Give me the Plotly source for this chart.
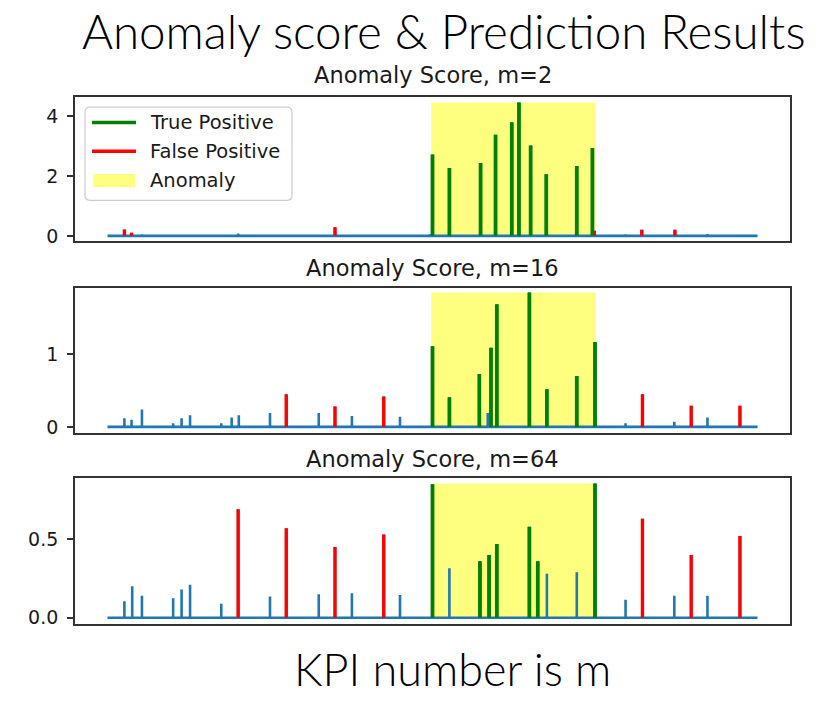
import plotly.graph_objects as go

# ---- data -------------------------------------------------------------
N_POINTS = 1000
ANOMALY_START, ANOMALY_END = 498, 751

panel_titles = ["Anomaly Score, m=2", "Anomaly Score, m=16", "Anomaly Score, m=64"]
tick_values = [[0, 2, 4], [0, 1], [0.0, 0.5]]
tick_labels = [["0", "2", "4"], ["0", "1"], ["0.0", "0.5"]]
y_ranges = [[-0.17, 4.64], [-0.088, 1.92], [-0.037, 0.89]]

# m = 2
m2_normal_idx = [53, 114, 175, 201, 275, 327, 375, 429, 497, 797, 897, 923, 974]
m2_normal_val = [0.05, 0.04, 0.04, 0.08, 0.04, 0.04, 0.04, 0.04, 0.06, 0.05, 0.04, 0.06, 0.03]
m2_fp_idx = [26, 37, 350, 749, 822, 873]
m2_fp_val = [0.21, 0.10, 0.29, 0.17, 0.20, 0.20]
m2_tp_idx = [500, 526, 574, 597, 622, 633, 651, 675, 722, 746]
m2_tp_val = [2.72, 2.27, 2.44, 3.38, 3.80, 4.46, 3.02, 2.06, 2.34, 2.94]

# m = 16
m16_normal_idx = [26, 37, 53, 101, 114, 127, 175, 191, 202, 250, 325, 376, 450, 585, 797, 872, 923]
m16_normal_val = [0.12, 0.10, 0.24, 0.05, 0.12, 0.16, 0.05, 0.13, 0.16, 0.19, 0.19, 0.15, 0.14, 0.19, 0.05, 0.07, 0.13]
m16_fp_idx = [275, 350, 425, 823, 898, 973]
m16_fp_val = [0.45, 0.28, 0.42, 0.45, 0.29, 0.29]
m16_tp_idx = [500, 526, 572, 590, 599, 649, 676, 722, 750]
m16_tp_val = [1.11, 0.41, 0.73, 1.09, 1.69, 1.85, 0.52, 0.70, 1.17]

# m = 64
m64_normal_idx = [26, 38, 53, 101, 114, 127, 175, 250, 325, 376, 450, 526, 676, 722, 797, 872, 923]
m64_normal_val = [0.105, 0.20, 0.14, 0.125, 0.18, 0.21, 0.09, 0.135, 0.15, 0.157, 0.145, 0.315, 0.28, 0.29, 0.115, 0.14, 0.14]
m64_fp_idx = [201, 275, 350, 425, 823, 898, 973]
m64_fp_val = [0.69, 0.57, 0.45, 0.53, 0.63, 0.40, 0.52]
m64_tp_idx = [500, 573, 587, 599, 649, 662, 750]
m64_tp_val = [0.85, 0.36, 0.40, 0.47, 0.58, 0.36, 0.855]

panels = [
    (m2_normal_idx, m2_normal_val, m2_fp_idx, m2_fp_val, m2_tp_idx, m2_tp_val),
    (m16_normal_idx, m16_normal_val, m16_fp_idx, m16_fp_val, m16_tp_idx, m16_tp_val),
    (m64_normal_idx, m64_normal_val, m64_fp_idx, m64_fp_val, m64_tp_idx, m64_tp_val),
]

# ---- styling ----------------------------------------------------------
W, H = 838, 704
BLUE = "#1f77b4"
GREEN = "#008000"
RED = "#ff0000"
YELLOW = "rgba(255,255,0,0.5)"
SPINE = "#333333"
TXT = "#1a1a1a"


def px_x(v):
    return v / W


def px_y(v):
    return 1 - v / H


# axes boxes in pixels (left, right, top, bottom)
boxes = [(75, 790, 98, 243), (75, 790, 290, 437), (75, 790, 482, 629)]
title_y = [76, 270, 463]


def score_line(idx, val):
    """Score series: zero baseline with a spike at each event index."""
    pts = sorted(zip(idx, val))
    xs, ys = [0], [0]
    for p, h in pts:
        xs += [p, p, p]
        ys += [0, h, 0]
    xs.append(N_POINTS)
    ys.append(0)
    return xs, ys


def stems(idx, val):
    xs, ys = [], []
    for p, h in zip(idx, val):
        xs += [p, p, None]
        ys += [0, h, None]
    return xs, ys


fig = go.Figure()
annotations = []
shapes = []

for k, (n_i, n_v, f_i, f_v, t_i, t_v) in enumerate(panels):
    ax = "" if k == 0 else str(k + 1)
    xref, yref = "x" + ax, "y" + ax
    all_idx = n_i + f_i + t_i
    all_val = n_v + f_v + t_v
    ymax = max(all_val)

    # anomaly window, filled up to the panel's highest score
    fig.add_trace(go.Scatter(
        x=[ANOMALY_START, ANOMALY_START, ANOMALY_END, ANOMALY_END],
        y=[0, ymax, ymax, 0], fill="toself", fillcolor=YELLOW,
        line=dict(width=0), mode="lines", hoverinfo="skip",
        showlegend=False, xaxis=xref, yaxis=yref))

    bx, by = score_line(all_idx, all_val)
    fig.add_trace(go.Scatter(x=bx, y=by, mode="lines",
                             line=dict(color=BLUE, width=2.6),
                             showlegend=False, xaxis=xref, yaxis=yref))

    rx, ry = stems(f_i, f_v)
    fig.add_trace(go.Scatter(x=rx, y=ry, mode="lines",
                             line=dict(color=RED, width=3.4),
                             showlegend=False, xaxis=xref, yaxis=yref))

    gx, gy = stems(t_i, t_v)
    fig.add_trace(go.Scatter(x=gx, y=gy, mode="lines",
                             line=dict(color=GREEN, width=3.8),
                             showlegend=False, xaxis=xref, yaxis=yref))

    l, r, t, b = boxes[k]
    fig.update_layout(**{
        "xaxis" + ax: dict(
            domain=[px_x(l), px_x(r)], range=[-0.05 * N_POINTS, 1.05 * N_POINTS],
            showticklabels=False, ticks="", showgrid=False, zeroline=False,
            showline=True, linecolor=SPINE, linewidth=1.8, mirror=True,
            anchor=yref),
        "yaxis" + ax: dict(
            domain=[px_y(b), px_y(t)], range=y_ranges[k],
            tickvals=tick_values[k], ticktext=tick_labels[k],
            ticks="outside", ticklen=6, tickwidth=1.6, tickcolor=SPINE,
            ticklabelstandoff=5,
            tickfont=dict(family="DejaVu Sans", size=19, color=TXT),
            showgrid=False, zeroline=False,
            showline=True, linecolor=SPINE, linewidth=1.8, mirror=True,
            anchor=xref),
    })

    annotations.append(dict(
        text=panel_titles[k], xref="paper", yref="paper",
        x=px_x((l + r) / 2), y=px_y(title_y[k]), xanchor="center", yanchor="middle",
        showarrow=False, font=dict(family="DejaVu Sans", size=22.5, color=TXT)))

# legend drawn inside the first panel
lx0, lx1, ly0, ly1 = 85, 292, 108, 202
rad = 5
path = (
    f"M {px_x(lx0 + rad)} {px_y(ly0)} L {px_x(lx1 - rad)} {px_y(ly0)} "
    f"Q {px_x(lx1)} {px_y(ly0)} {px_x(lx1)} {px_y(ly0 + rad)} "
    f"L {px_x(lx1)} {px_y(ly1 - rad)} "
    f"Q {px_x(lx1)} {px_y(ly1)} {px_x(lx1 - rad)} {px_y(ly1)} "
    f"L {px_x(lx0 + rad)} {px_y(ly1)} "
    f"Q {px_x(lx0)} {px_y(ly1)} {px_x(lx0)} {px_y(ly1 - rad)} "
    f"L {px_x(lx0)} {px_y(ly0 + rad)} "
    f"Q {px_x(lx0)} {px_y(ly0)} {px_x(lx0 + rad)} {px_y(ly0)} Z"
)
shapes.append(dict(type="path", path=path, xref="paper", yref="paper",
                   fillcolor="rgba(255,255,255,0.8)",
                   line=dict(color="#cccccc", width=1.2), layer="above"))

legend_items = [("True Positive", GREEN, "line", 123.5),
                ("False Positive", RED, "line", 152.5),
                ("Anomaly", YELLOW, "patch", 182.0)]
for name, col, kind, yy in legend_items:
    if kind == "line":
        shapes.append(dict(type="line", xref="paper", yref="paper",
                           x0=px_x(92), x1=px_x(136), y0=px_y(yy), y1=px_y(yy),
                           line=dict(color=col, width=3.6), layer="above"))
    else:
        shapes.append(dict(type="rect", xref="paper", yref="paper",
                           x0=px_x(93), x1=px_x(135), y0=px_y(yy - 6.5), y1=px_y(yy + 6.5),
                           fillcolor=col, line=dict(width=0), layer="above"))
    annotations.append(dict(
        text=name, xref="paper", yref="paper", x=px_x(148), y=px_y(yy),
        xanchor="left", yanchor="middle", showarrow=False,
        font=dict(family="DejaVu Sans", size=19.5, color=TXT)))

# headline and footer
annotations.append(dict(
    text="Anomaly score & Prediction Results", xref="paper", yref="paper",
    x=px_x(444), y=1, xanchor="center", yanchor="top",
    showarrow=False,
    font=dict(family="Lato", size=47.5, color="#000000", weight=300)))
annotations.append(dict(
    text="KPI number is m", xref="paper", yref="paper",
    x=px_x(452), y=0, xanchor="center", yanchor="bottom",
    showarrow=False,
    font=dict(family="Lato", size=45, color="#000000", weight=300)))

fig.update_layout(
    width=W, height=H, margin=dict(l=0, r=0, t=0, b=0),
    paper_bgcolor="white", plot_bgcolor="white",
    showlegend=False, annotations=annotations, shapes=shapes,
)

fig.write_html("out.html")
